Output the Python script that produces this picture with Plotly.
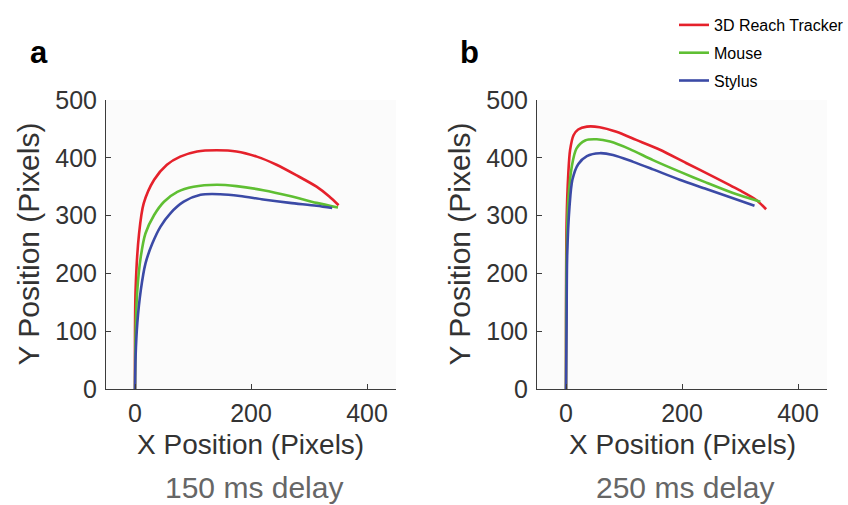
import plotly.graph_objects as go

# Mean reach trajectories (pixels), 150 ms delay condition
a_reach_x = [0, 1, 7, 15, 33, 55, 78, 107, 141, 175, 210, 244, 278, 313, 335, 351]
a_reach_y = [0, 171, 269, 321, 362, 388, 402, 411, 413, 411, 402, 388, 370, 350, 333, 318]
a_mouse_x = [0, 1, 4, 10, 18, 33, 50, 73, 101, 141, 175, 221, 267, 313, 350]
a_mouse_y = [0, 96, 171, 229, 269, 301, 324, 341, 350, 353.5, 351, 344, 334, 322, 314]
a_stylus_x = [0, 1, 4, 10, 18, 30, 44, 61, 84, 113, 147, 181, 221, 267, 313, 340]
a_stylus_y = [0, 56, 114, 171, 217, 252, 281, 304, 324, 336, 337, 334, 328, 322, 317, 313]

# Mean reach trajectories (pixels), 250 ms delay condition
b_reach_x = [0, 1, 4, 7, 13, 21, 36, 58, 87, 121, 162, 207, 253, 299, 328, 345]
b_reach_y = [0, 287, 373, 413, 439, 449, 454, 453, 445, 431, 414, 391, 368, 344, 327, 311]
b_mouse_x = [0, 1, 4, 10, 18, 33, 53, 76, 110, 150, 196, 242, 288, 335]
b_mouse_y = [0, 229, 327, 385, 416, 430, 432, 428, 415, 396, 376, 357, 339, 324]
b_stylus_x = [0, 1, 2, 6, 11, 21, 36, 58, 81, 116, 150, 196, 242, 288, 325]
b_stylus_y = [0, 114, 229, 315, 362, 389, 403, 408, 405, 393, 380, 362, 346, 330, 317]

device_names = ["3D Reach Tracker", "Mouse", "Stylus"]
device_colors = ["#E5212B", "#5FBF33", "#3B4AA6"]
x_ticks = [0, 200, 400]
y_ticks = [0, 100, 200, 300, 400, 500]
panel_letters = ["a", "b"]
delay_labels = ["150 ms delay", "250 ms delay"]

W, H = 848, 505
FONT = "Liberation Sans, Arial, Helvetica, sans-serif"
AXIS_COLOR = "#3c3c3c"

# plot areas in pixels: (left, right), (top, bottom)
panels_px = [(106, 396), (537, 827)]
top_px, bottom_px = 100, 389

fig = go.Figure()

panel_data = [
    [(a_reach_x, a_reach_y), (a_mouse_x, a_mouse_y), (a_stylus_x, a_stylus_y)],
    [(b_reach_x, b_reach_y), (b_mouse_x, b_mouse_y), (b_stylus_x, b_stylus_y)],
]

for p, series in enumerate(panel_data):
    xa = "x" if p == 0 else "x2"
    ya = "y" if p == 0 else "y2"
    for i, (xs, ys) in enumerate(series):
        fig.add_trace(go.Scatter(
            x=xs, y=ys, mode="lines",
            line=dict(color=device_colors[i], width=2.6, shape="spline", smoothing=0.8),
            name=device_names[i], legendgroup=device_names[i],
            showlegend=(p == 0), xaxis=xa, yaxis=ya,
        ))

axis_common = dict(
    showline=True, linecolor=AXIS_COLOR, linewidth=1,
    ticks="inside", ticklen=5, tickcolor=AXIS_COLOR, tickwidth=1,
    showgrid=False, zeroline=False, mirror=False, automargin=False,
    tickfont=dict(family=FONT, size=25, color="#333333"),
)

ydom = [1 - bottom_px / H, 1 - top_px / H]
for p, (l, r) in enumerate(panels_px):
    sfx = "" if p == 0 else "2"
    fig.update_layout(**{
        "xaxis" + sfx: dict(axis_common, domain=[l / W, r / W], range=[-50, 450],
                            tickvals=x_ticks, anchor="y" + sfx, ticklabelstandoff=2),
        "yaxis" + sfx: dict(axis_common, domain=ydom, range=[0, 500],
                            tickvals=y_ticks, anchor="x" + sfx, ticklabelstandoff=3),
    })

annotations = []
for p, (l, r) in enumerate(panels_px):
    cx = (l + r) / 2 / W
    annotations.append(dict(
        text="X Position (Pixels)", x=cx, y=1 - 444 / H, xref="paper", yref="paper",
        showarrow=False, font=dict(family=FONT, size=28, color="#333333"),
        xanchor="center", yanchor="middle"))
    annotations.append(dict(
        text=delay_labels[p], x=cx + 3 / W, y=1 - 487 / H, xref="paper", yref="paper",
        showarrow=False, font=dict(family=FONT, size=30, color="#666666"),
        xanchor="center", yanchor="middle"))
    annotations.append(dict(
        text="Y Position (Pixels)", x=(l - 78) / W, y=1 - (top_px + bottom_px) / 2 / H,
        xref="paper", yref="paper", textangle=-90,
        showarrow=False, font=dict(family=FONT, size=30, color="#333333"),
        xanchor="center", yanchor="middle"))
    annotations.append(dict(
        text="<b>%s</b>" % panel_letters[p], x=(l - 67) / W, y=1 - 53 / H,
        xref="paper", yref="paper",
        showarrow=False, font=dict(family=FONT, size=31, color="#000000"),
        xanchor="center", yanchor="middle"))

fig.update_layout(
    width=W, height=H,
    margin=dict(l=0, r=0, t=0, b=0, pad=0, autoexpand=False),
    paper_bgcolor="white", plot_bgcolor="#fbfbfb",
    annotations=annotations,
    legend=dict(
        x=674 / W, y=1 - 8 / H, xanchor="left", yanchor="top",
        font=dict(family=FONT, size=16, color="#000000"),
        itemwidth=30, tracegroupgap=4, bgcolor="rgba(0,0,0,0)",
    ),
)

fig.write_html("out.html")
